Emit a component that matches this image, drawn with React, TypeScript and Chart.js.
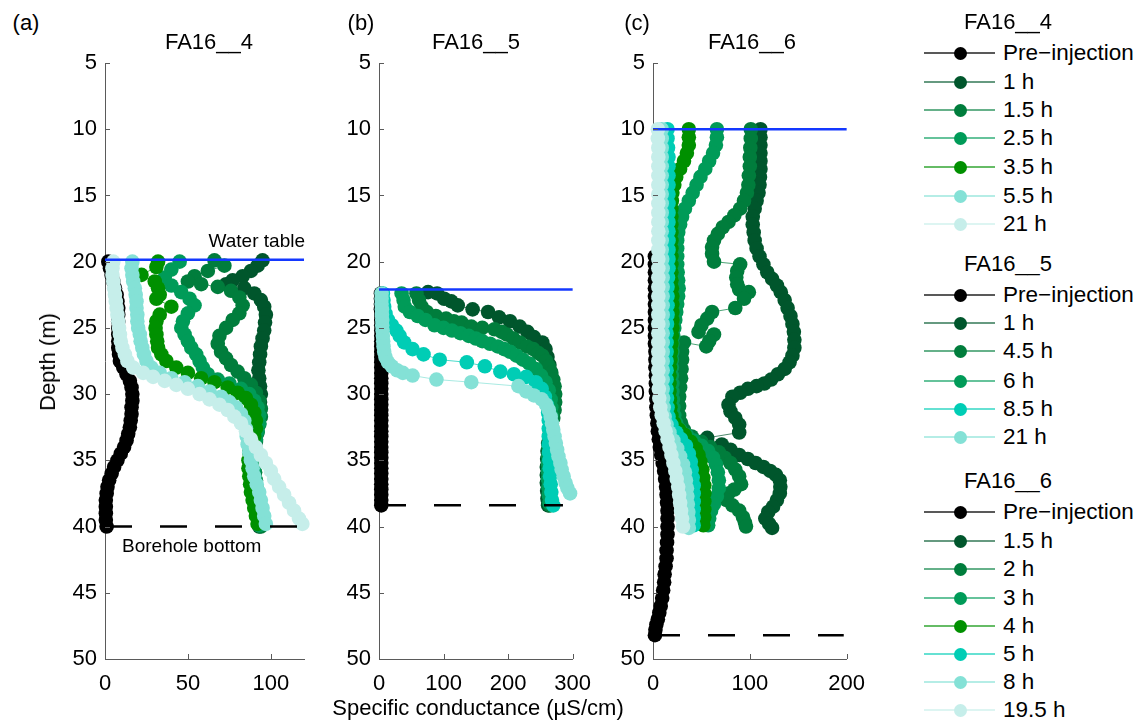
import React, { useEffect, useRef } from 'react';
import { Chart, registerables } from 'chart.js';

Chart.register(...registerables);

type Pt = [number, number]; // [specific conductance (µS/cm), depth (m)]

const FONT = "'Liberation Sans', Arial, Helvetica, sans-serif";

const BLACK = '#000000';
const G1 = '#00562c';
const G2 = '#007d3c';
const G3 = '#009b58';
const G4 = '#009000';
const T1 = '#00cdb5';
const T2 = '#84e1d6';
const T3 = '#c6eeea';
const BLUE = '#1438ff';
const AXIS = '#5a5a5a';

// ---------------- Panel (a) FA16__4 ----------------
const a_pre: Pt[] = [[2,20],[3,20.5],[4,21],[5,21.5],[6,22],[7,22.5],[7.5,23],[8,23.5],[8,24],[8,24.5],[8,25],[8,25.5],[8,26],[8,26.5],[8.5,27],[9,27.5],[11,28],[13,28.5],[15,29],[16,29.5],[16.5,30],[16.5,30.5],[16,31],[16,31.5],[15.5,32],[15,32.5],[14,33],[13,33.5],[11.5,34],[9.5,34.5],[7.5,35],[5.5,35.5],[4,36],[2.5,36.5],[1.5,37],[1,37.5],[0.5,38],[0.5,38.5],[0.5,39],[0.5,39.5],[1,40]];
const a_1h: Pt[] = [[95,19.9],[92,20.3],[88,20.7],[83,21.1],[77,21.4],[73,21.7],[84,22],[90,22.4],[94,22.9],[96,23.4],[97,24],[96.5,24.6],[96,25.2],[95,25.8],[94,26.4],[93.5,27],[93,27.6],[92.5,28.2],[93,28.8],[93.5,29.4],[94,30],[93.5,30.6],[93,31.2],[92.5,31.8],[92,32.4],[91.5,33],[91,33.6],[90,34.2],[89.5,34.8],[89.5,35.4],[89.5,36],[90,36.6],[90.5,37.2],[91,37.8],[91.5,38.4],[92,39],[92.5,39.6],[93,40]];
const a_1_5h: Pt[] = [[66,19.9],[72,20.3],[62,20.7],[54,21.1],[50,21.5],[58,21.7],[68,21.9],[76,22.2],[81,22.7],[83,23.3],[81,23.9],[77,24.4],[73,25],[69,25.6],[68,26.2],[70,26.8],[73,27.3],[76,27.8],[80,28.3],[84,28.8],[88,29.3],[91,29.9],[93,30.5],[94,31.1],[94,31.7],[93,32.3],[92,32.9],[91,33.5],[90,34.1],[90,34.7],[90,35.3],[90.5,35.9],[91,36.5],[91.5,37.1],[92,37.7],[92.5,38.3],[93,38.9],[93.5,39.5],[94,40]];
const a_2_5h: Pt[] = [[45,20],[40,20.6],[36,21.2],[40,21.8],[46,22.3],[51,22.8],[54,23.3],[50,23.9],[47,24.5],[46,25],[48,25.5],[50,26],[52,26.5],[55,27],[57,27.5],[59,28],[62,28.5],[68,28.9],[75,29.2],[82,29.6],[87,30],[90,30.5],[92,31],[93,31.6],[93,32.2],[92,32.8],[91,33.4],[90,34],[89.5,34.6],[89.5,35.2],[90,35.8],[90.5,36.4],[91,37],[91.5,37.6],[92,38.2],[92.5,38.8],[93,39.4],[93,39.9]];
const a_3_5h: Pt[] = [[32,20],[31,20.4],[22,21],[30,21.5],[32,22],[33,22.5],[31,22.8],[40,23.4],[33,24],[31,24.5],[30.5,25],[31,25.5],[31.5,26],[32,26.5],[34,27],[37,27.5],[43,28],[50,28.4],[58,28.8],[66,29.1],[74,29.5],[80,29.9],[85,30.3],[88,30.8],[90,31.4],[91,32],[91,32.6],[90,33.2],[88.5,33.8],[87,34.4],[86.5,35],[86.5,35.6],[87,36.2],[87.5,36.8],[88,37.4],[89,38],[90,38.6],[91,39.2],[92,39.8]];
const a_5_5h: Pt[] = [[16.5,20],[16,20.5],[16.5,21],[17,21.5],[18,22],[18.5,22.5],[19,23],[19,23.5],[19.5,24],[19.5,24.5],[20,25],[21,25.5],[21.5,26],[22.5,26.5],[23.5,27],[25,27.5],[28,28],[33,28.4],[40,28.8],[48,29.1],[56,29.4],[63,29.8],[70,30.2],[75,30.6],[79,31],[82,31.5],[84,32],[85,32.6],[85.5,33.2],[86,33.8],[87,34.4],[88,35],[89,35.6],[90,36.2],[91.5,36.8],[93,37.4],[94,38],[95,38.6],[96,39.2],[97,39.8]];
const a_21h: Pt[] = [[5,20],[4.5,20.5],[4.5,21],[5,21.5],[5.5,22],[6,22.5],[6.5,23],[7,23.5],[7.5,24],[8,24.5],[8.5,25],[9,25.5],[9.5,26],[10.5,26.5],[12,27],[13.5,27.5],[17,28],[23,28.4],[29,28.7],[36,29],[43,29.3],[50,29.6],[57,30],[63,30.4],[69,30.8],[74,31.2],[78,31.7],[82,32.2],[85,32.8],[88,33.4],[91,34],[94,34.6],[97,35.2],[100,35.8],[102,36.4],[105,37],[108,37.6],[111,38.2],[114,38.8],[117,39.4],[119,39.8]];

// ---------------- Panel (b) FA16__5 ----------------
const b_pre: Pt[] = [[3,22.4],[3,22.8],[3,23.2],[3,23.6],[3.5,24],[3.5,24.4],[3.5,24.8],[3.5,25.2],[3.5,25.6],[3.5,26],[3.5,26.4],[3.5,26.8],[3.5,27.2],[3.5,27.6],[3.5,28],[3.5,28.4],[3.5,28.8],[3.5,29.2],[3.5,29.6],[3.5,30],[3.5,30.4],[3.5,30.8],[3.5,31.2],[3.5,31.6],[3.5,32],[3.5,32.4],[3.5,32.8],[3.5,33.2],[3.5,33.6],[3.5,34],[3.5,34.4],[3.5,34.8],[3.5,35.2],[3.5,35.6],[3.5,36],[3.5,36.4],[3.5,36.8],[3.5,37.2],[3.5,37.6],[3.5,38],[3.5,38.4]];
const b_1h: Pt[] = [[76,22.3],[90,22.4],[101,22.8],[112,23],[122,23.3],[145,23.6],[169,23.8],[186,24.2],[203,24.5],[218,24.9],[230,25.3],[240,25.7],[253,26.1],[258,26.6],[261,27.2],[264,27.8],[266,28.3],[268,28.9],[270,29.5],[271,30.1],[271,30.7],[270,31.3],[268,31.9],[266,32.5],[264,33.1],[262,33.7],[261,34.3],[260.5,34.9],[260,35.5],[260,36.1],[260,36.7],[260.5,37.3],[261,37.9],[262,38.4]];
const b_4_5h: Pt[] = [[58,22.4],[62,22.9],[66,23.4],[74,23.8],[88,24.1],[104,24.3],[116,24.5],[128,24.6],[143,24.9],[160,25],[179,25.1],[190,25.3],[198,25.5],[208,25.8],[218,26.1],[229,26.4],[239,26.6],[247,26.9],[253,27.1],[259,27.5],[263,27.9],[267,28.4],[270,28.9],[272,29.4],[273,30],[273,30.6],[272,31.2],[270,31.8],[268,32.4],[266,33],[264,33.6],[263,34.2],[262,34.8],[262,35.4],[262,36],[262.5,36.6],[263,37.2],[264,37.8],[265,38.4]];
const b_6h: Pt[] = [[35,22.4],[38,22.9],[40,23.4],[48,23.8],[60,24.1],[72,24.4],[86,24.8],[100,25],[113,25.2],[126,25.4],[139,25.6],[150,25.8],[160,26],[172,26.2],[184,26.4],[194,26.6],[203,26.8],[213,27.1],[223,27.4],[233,27.7],[243,28.1],[251,28.6],[258,29.1],[263,29.7],[266,30.4],[267,31],[267,31.6],[266,32.2],[265,32.8],[264,33.4],[263,34],[262.5,34.6],[262,35.2],[262,35.8],[262,36.4],[262.5,37],[263,37.6],[264,38.2]];
const b_8_5h: Pt[] = [[6,22.4],[7,22.9],[8,23.4],[10,23.9],[14,24.4],[20,24.8],[27,25.2],[32,25.6],[39,26.1],[52,26.6],[69,27],[94,27.4],[136,27.6],[164,27.9],[188,28.3],[209,28.5],[228,28.7],[243,29.1],[252,29.6],[257,30.2],[260,30.8],[262,31.4],[263,32],[263,32.6],[263,33.2],[263,33.8],[263.5,34.4],[264,35],[264.5,35.6],[265,36.2],[266,36.8],[267,37.4],[268,38],[270,38.4]];
const b_21h: Pt[] = [[4,22.4],[4,22.8],[4,23.2],[4.5,23.6],[4.5,24],[5,24.4],[5,24.8],[5.5,25.2],[6,25.6],[6.5,26],[7,26.4],[8,26.8],[10,27.2],[14,27.6],[20,27.9],[28,28.2],[37,28.4],[52,28.6],[89,28.9],[143,29.1],[216,29.4],[228,29.8],[240,30.1],[252,30.4],[259,30.8],[263,31.2],[266,31.7],[268,32.2],[270,32.7],[272,33.2],[274,33.7],[276,34.2],[278,34.7],[281,35.2],[283,35.7],[286,36.2],[289,36.7],[292,37.1],[296,37.5]];

// ---------------- Panel (c) FA16__6 ----------------
const c_pre: Pt[] = [[2,19.6],[2,20.2],[2,20.8],[2,21.4],[2,22],[2,22.6],[2,23.2],[2,23.8],[2,24.4],[2,25],[2,25.6],[2,26.2],[2.5,26.8],[2.5,27.4],[2.5,28],[3,28.6],[3,29.2],[3,29.8],[3.5,30.4],[3.5,31],[4,31.6],[4.5,32.2],[5,32.8],[6,33.4],[7,34],[8.5,34.6],[10,35.2],[11.5,35.8],[12.5,36.4],[13.5,37],[14,37.6],[14.5,38.2],[15,38.8],[15,39.4],[15,40],[15,40.6],[14.5,41.2],[14,41.8],[14,42.4],[13,43],[12,43.6],[11.5,44.2],[10.5,44.8],[9.5,45.4],[8,46],[6.5,46.5],[5,47],[3.5,47.4],[2.5,47.8],[2,48.2]];
const c_1_5h: Pt[] = [[111,10],[111,10.6],[111,11.2],[111,11.8],[111,12.4],[111,13],[110.5,13.6],[110,14.2],[109,14.8],[107,15.4],[105,16],[103,16.6],[103,17.2],[104,17.8],[105,18.4],[107,19],[110,19.6],[114,20.2],[118,20.8],[123,21.3],[128,21.8],[132,22.3],[136,22.9],[139,23.5],[142,24.1],[144,24.7],[145.5,25.3],[146,25.9],[146,26.5],[144,27.1],[141,27.6],[136,28.1],[129,28.5],[122,28.9],[115,29.2],[107,29.4],[98,29.6],[90,29.9],[82,30.2],[78,30.8],[80,31.3],[85,31.8],[89,32.3],[89,32.9],[56,33.3],[71,33.8],[80,34.2],[89,34.6],[98,34.9],[106,35.2],[114,35.5],[121,35.8],[127,36.1],[131,36.5],[131.5,37],[131,37.5],[128,38],[124,38.5],[119,38.9],[116,39.4],[120,39.8],[123,40.1]];
const c_2h: Pt[] = [[101,10],[101,10.7],[100.5,11.4],[100,12.1],[100,12.8],[99,13.5],[98.5,14.2],[97,14.8],[94,15.4],[90,16],[84,16.5],[78,17],[72,17.4],[67,17.9],[63,18.4],[61,18.9],[61,19.4],[63,20],[90,20.2],[87,20.7],[86,21.2],[87,21.7],[89,22.1],[99,22.3],[94,22.8],[85,23.5],[61,23.8],[56,24.3],[50,24.8],[47,25.3],[63,25.5],[58,26],[55,26.4],[32,26.1],[30,26.8],[30,27.4],[29.5,28.1],[29,28.8],[28,29.5],[27,30.2],[27,30.9],[27,31.6],[29,32.2],[32,32.7],[40,33.2],[50,33.6],[59,34],[68,34.4],[74,34.8],[80,35.2],[85,35.7],[89,36.2],[91,36.8],[84,37.2],[78,37.5],[76,38],[82,38.4],[89,38.8],[93,39.3],[95,39.7],[96,40]];
const c_3h: Pt[] = [[66,10],[66,10.6],[65,11.2],[62,11.8],[58,12.4],[54,13],[49,13.6],[45,14.2],[41,14.8],[37,15.4],[33,16],[30,16.6],[28,17.2],[26,17.8],[25,18.4],[25,19],[25,19.6],[25,20.2],[25.5,20.8],[26,21.4],[26.5,22],[26,22.6],[25,23.2],[24,23.8],[23,24.4],[22,25],[21,25.6],[20,26.2],[20,26.8],[19.5,27.4],[19.5,28],[19.5,28.6],[20,29.2],[20,29.8],[20.5,30.4],[21,31],[22,31.6],[24,32.2],[28,32.7],[35,33.1],[42,33.5],[50,33.9],[57,34.3],[62,34.8],[65,35.3],[67,35.9],[68,36.5],[68,37.1],[66,37.7],[63,38.3],[60,38.8],[58,39.4],[57,39.9]];
const c_4h: Pt[] = [[37,10],[37,10.6],[37,11.2],[35,11.8],[32,12.4],[28,13],[24,13.6],[22,14.2],[20,14.8],[19.5,15.4],[19,16],[19,16.6],[19,17.2],[19,17.8],[19,18.4],[19,19],[19,19.6],[19,20.2],[19,20.8],[19,21.4],[19.5,22],[20,22.6],[20,23.2],[20,23.8],[20,24.4],[20,25],[19.5,25.6],[19,26.2],[18.5,26.8],[18,27.4],[17.5,28],[17,28.6],[17,29.2],[17,29.8],[17.5,30.4],[18,31],[19,31.6],[22,32.2],[27,32.7],[33,33.1],[39,33.6],[44,34.1],[47,34.6],[49,35.1],[51,35.7],[52,36.3],[53,36.9],[53,37.5],[53,38.1],[53,38.7],[53,39.3],[52,39.9]];
const c_5h: Pt[] = [[15,10],[15,10.7],[15.5,11.4],[16,12.1],[16,12.8],[16,13.5],[16,14.2],[16,14.9],[16,15.6],[16,16.3],[16,17],[16,17.7],[16,18.4],[16,19.1],[16,19.8],[16,20.5],[15.5,21.2],[15,21.9],[15,22.6],[15,23.3],[15,24],[14.5,24.7],[14,25.4],[14,26.1],[14,26.8],[14,27.5],[14,28.2],[14,28.9],[14,29.6],[14.5,30.3],[15,31],[16,31.7],[19,32.3],[24,32.9],[29,33.4],[34,33.9],[37,34.5],[39,35.1],[40,35.7],[41,36.3],[42,36.9],[42,37.5],[42,38.1],[42,38.7],[42,39.3],[42,39.9]];
const c_8h: Pt[] = [[9,10],[9,10.7],[9,11.4],[9,12.1],[9,12.8],[9,13.5],[9,14.2],[9,14.9],[9,15.6],[9,16.3],[9,17],[9,17.7],[9,18.4],[9,19.1],[9.5,19.8],[10,20.5],[10,21.2],[10,21.9],[10,22.6],[10,23.3],[10,24],[10,24.7],[10,25.4],[10,26.1],[10,26.8],[10,27.5],[10,28.2],[10,28.9],[10,29.6],[10.5,30.3],[11,31],[12,31.7],[14,32.3],[17,32.9],[21,33.5],[25,34.1],[28,34.7],[31,35.3],[33,35.9],[34,36.5],[35,37.1],[35.5,37.7],[36,38.3],[36.5,38.9],[37,39.5],[37,40.1]];
const c_19_5h: Pt[] = [[5,10],[5,10.7],[5.5,11.4],[5.5,12.1],[5.5,12.8],[5.5,13.5],[5.5,14.2],[5.5,14.9],[5.5,15.6],[5.5,16.3],[5.5,17],[5.5,17.7],[5.5,18.4],[5.5,19.1],[5.5,19.8],[5.5,20.5],[5.5,21.2],[5.5,21.9],[5.5,22.6],[5.5,23.3],[5.5,24],[5.5,24.7],[5.5,25.4],[5.5,26.1],[5.5,26.8],[5.5,27.5],[5.5,28.2],[5.5,28.9],[6,29.6],[6.5,30.3],[7.5,31],[9,31.6],[11,32.2],[13,32.8],[15,33.4],[17,34],[19,34.6],[21,35.2],[23,35.8],[24.5,36.4],[26,37],[27,37.6],[28,38.2],[29,38.8],[30,39.4],[31,40]];

// ---------------- labels / colors / reference lines ----------------
const panelTitles = ['FA16__4', 'FA16__5', 'FA16__6'];
const panelLetters = ['(a)', '(b)', '(c)'];
const labelsA = ['Pre−injection', '1 h', '1.5 h', '2.5 h', '3.5 h', '5.5 h', '21 h'];
const labelsB = ['Pre−injection', '1 h', '4.5 h', '6 h', '8.5 h', '21 h'];
const labelsC = ['Pre−injection', '1.5 h', '2 h', '3 h', '4 h', '5 h', '8 h', '19.5 h'];
const colorsA = [BLACK, G1, G2, G3, G4, T2, T3];
const colorsB = [BLACK, G1, G2, G3, T1, T2];
const colorsC = [BLACK, G1, G2, G3, G4, T1, T2, T3];
const seriesA = [a_pre, a_1h, a_1_5h, a_2_5h, a_3_5h, a_5_5h, a_21h];
const seriesB = [b_pre, b_1h, b_4_5h, b_6h, b_8_5h, b_21h];
const seriesC = [c_pre, c_1_5h, c_2h, c_3h, c_4h, c_5h, c_8h, c_19_5h];
const waterTableDepth = [19.85, 22.1, 10];
const boreholeBottomDepth = [40, 38.4, 48.2];
const boreholeLineEnd = [119, 285, 197];
const xMaxes = [120, 300, 200];
const xSteps = [50, 100, 100];
const depthTicks = { min: 5, max: 50, step: 5 };

function withAlpha(hex: string, a: number) {
  const r = parseInt(hex.slice(1, 3), 16);
  const g = parseInt(hex.slice(3, 5), 16);
  const b = parseInt(hex.slice(5, 7), 16);
  return `rgba(${r},${g},${b},${a})`;
}

const inwardTicks = {
  id: 'inwardTicks',
  afterDraw(chart: any) {
    const { ctx, chartArea, scales } = chart;
    ctx.save();
    ctx.strokeStyle = AXIS;
    ctx.lineWidth = 1;
    scales.x.ticks.forEach((t: any) => {
      const px = Math.round(scales.x.getPixelForValue(t.value)) + 0.5;
      ctx.beginPath();
      ctx.moveTo(px, chartArea.bottom);
      ctx.lineTo(px, chartArea.bottom - 5);
      ctx.stroke();
    });
    scales.y.ticks.forEach((t: any) => {
      const py = Math.round(scales.y.getPixelForValue(t.value)) + 0.5;
      ctx.beginPath();
      ctx.moveTo(chartArea.left, py);
      ctx.lineTo(chartArea.left + 5, py);
      ctx.stroke();
    });
    ctx.restore();
  },
};

const Y_W = 60;
const PAD_R = 25;
const CHART_W = 199;

function Panel(props: { idx: number; left: number; labels: string[]; colors: string[]; series: Pt[][] }) {
  const ref = useRef<HTMLCanvasElement>(null);
  const { idx, left, labels, colors, series } = props;
  useEffect(() => {
    const xMax = xMaxes[idx];
    const datasets: any[] = series.map((d, i) => ({
      label: labels[i],
      data: d.map(([x, y]) => ({ x, y })),
      showLine: true,
      borderColor: withAlpha(colors[i], 0.7),
      borderWidth: 1,
      backgroundColor: colors[i],
      pointBackgroundColor: colors[i],
      pointBorderColor: colors[i],
      pointBorderWidth: 0,
      pointRadius: 7.3,
      pointHoverRadius: 7.3,
      clip: false,
      order: series.length - i,
    }));
    datasets.push({
      label: 'Water table',
      data: [{ x: 0, y: waterTableDepth[idx] }, { x: xMax, y: waterTableDepth[idx] }],
      showLine: true,
      borderColor: BLUE,
      borderWidth: 2.5,
      pointRadius: 0,
      clip: false,
      order: 0,
    });
    datasets.push({
      label: 'Borehole bottom',
      data: [{ x: 0, y: boreholeBottomDepth[idx] }, { x: boreholeLineEnd[idx], y: boreholeBottomDepth[idx] }],
      showLine: true,
      borderColor: BLACK,
      borderWidth: 2.5,
      borderDash: [27, 28],
      pointRadius: 0,
      clip: false,
      order: 0,
    });
    const tickFont = { family: FONT, size: 22 };
    const chart = new Chart(ref.current as HTMLCanvasElement, {
      type: 'scatter',
      data: { datasets },
      options: {
        animation: false,
        responsive: false,
        events: [],
        layout: { padding: { top: 63, left: 0, right: PAD_R, bottom: 0 } },
        plugins: { legend: { display: false }, tooltip: { enabled: false }, title: { display: false } },
        scales: {
          x: {
            type: 'linear',
            position: 'bottom',
            min: 0,
            max: xMax,
            ticks: { stepSize: xSteps[idx], includeBounds: false, color: '#000', font: tickFont, padding: 12, maxRotation: 0, autoSkip: false },
            grid: { display: true, drawOnChartArea: false, drawTicks: false },
            border: { display: true, color: AXIS, width: 1 },
            afterFit: (s: any) => { s.height = 64; },
          },
          y: {
            type: 'linear',
            position: 'left',
            reverse: true,
            min: depthTicks.min,
            max: depthTicks.max,
            ticks: { stepSize: depthTicks.step, includeBounds: false, color: '#000', font: tickFont, padding: 8, autoSkip: false },
            grid: { display: true, drawOnChartArea: false, drawTicks: false },
            border: { display: true, color: AXIS, width: 1 },
            afterFit: (s: any) => { s.width = Y_W; },
          },
        },
      } as any,
      plugins: [inwardTicks],
    });
    return () => chart.destroy();
  }, []);
  const w = Y_W + CHART_W + PAD_R;
  return (
    <canvas
      ref={ref}
      width={w}
      height={723}
      style={{ position: 'absolute', left: left - Y_W, top: 0, width: w, height: 723 }}
    />
  );
}

const txt = (extra: React.CSSProperties): React.CSSProperties => ({
  position: 'absolute',
  fontFamily: FONT,
  fontSize: 22,
  lineHeight: '26px',
  color: '#000',
  whiteSpace: 'nowrap',
  ...extra,
});

const legendGroups = [
  { title: panelTitles[0], titleY: 22, rowY: [53, 82, 110, 138, 167, 196, 224], labels: labelsA, colors: colorsA },
  { title: panelTitles[1], titleY: 264, rowY: [295, 323, 351, 381, 409, 437], labels: labelsB, colors: colorsB },
  { title: panelTitles[2], titleY: 481, rowY: [512, 541, 569, 598, 626, 654, 682, 710], labels: labelsC, colors: colorsC },
];

function Legend() {
  return (
    <>
      {legendGroups.map((g, gi) => (
        <React.Fragment key={gi}>
          <div style={txt({ left: 964, top: g.titleY - 13 })}>{g.title}</div>
          {g.labels.map((lab, i) => (
            <React.Fragment key={i}>
              <div style={{ position: 'absolute', left: 924, top: g.rowY[i] - 1, width: 71, height: 2, background: withAlpha(g.colors[i], i === 0 ? 0.65 : 0.6) }} />
              <div style={{ position: 'absolute', left: 960 - 6.5, top: g.rowY[i] - 6.5, width: 13, height: 13, borderRadius: '50%', background: g.colors[i] }} />
              <div style={txt({ left: 1003, top: g.rowY[i] - 13, fontSize: 22.5 })}>{lab}</div>
            </React.Fragment>
          ))}
        </React.Fragment>
      ))}
    </>
  );
}

export default function App() {
  const lefts = [105, 379, 653];
  const titleCenters = [209, 476, 752];
  const letterCenters = [26, 361, 637];
  return (
    <div style={{ position: 'absolute', left: 0, top: 0, width: 1141, height: 723, background: '#fff', overflow: 'hidden' }}>
      <Panel idx={0} left={lefts[0]} labels={labelsA} colors={colorsA} series={seriesA} />
      <Panel idx={1} left={lefts[1]} labels={labelsB} colors={colorsB} series={seriesB} />
      <Panel idx={2} left={lefts[2]} labels={labelsC} colors={colorsC} series={seriesC} />
      {panelTitles.map((t, i) => (
        <div key={'t' + i} style={txt({ left: titleCenters[i], top: 42, transform: 'translate(-50%,-50%)' })}>{t}</div>
      ))}
      {panelLetters.map((t, i) => (
        <div key={'l' + i} style={txt({ left: letterCenters[i], top: 23, transform: 'translate(-50%,-50%)' })}>{t}</div>
      ))}
      <div style={txt({ left: 305, top: 241, transform: 'translate(-100%,-50%)', fontSize: 19 })}>Water table</div>
      <div style={txt({ left: 122, top: 546, transform: 'translate(0,-50%)', fontSize: 19 })}>Borehole bottom</div>
      <div style={txt({ left: 48, top: 362, transform: 'translate(-50%,-50%) rotate(-90deg)' })}>Depth (m)</div>
      <div style={txt({ left: 478, top: 708, transform: 'translate(-50%,-50%)' })}>Specific conductance (µS/cm)</div>
      <Legend />
    </div>
  );
}
